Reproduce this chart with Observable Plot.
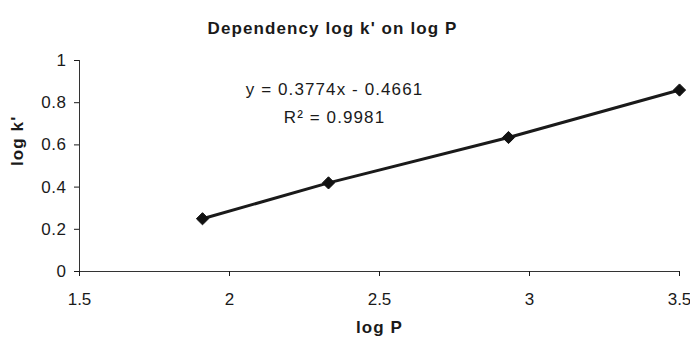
<!DOCTYPE html>
<html>
<head>
<meta charset="utf-8">
<script src="https://cdn.jsdelivr.net/npm/d3@7"></script>
<script src="https://cdn.jsdelivr.net/npm/@observablehq/plot@0.6"></script>
<style>
  html, body { margin: 0; padding: 0; background: #fff; }
  #chart svg { font-family: "Liberation Sans", Arial, sans-serif; }
  #chart g[aria-label="text"] { letter-spacing: 1.1px; }
  #chart g[aria-label="y-axis tick label"] { letter-spacing: 0.5px; }
</style>
</head>
<body>
<div id="chart"></div>
<script>
const logP = [1.91, 2.33, 2.93, 3.5];
const logK = [0.25, 0.42, 0.635, 0.86];
const xTicks = [1.5, 2, 2.5, 3, 3.5];
const yTicks = [0, 0.2, 0.4, 0.6, 0.8, 1];
const titleText = "Dependency log k' on log P";
const xLabel = "log P";
const yLabel = "log k'";
const eqText = ["y = 0.3774x - 0.4661", "R\u00B2 = 0.9981"];
const eqX = [2.35, 2.35];
const eqY = [0.86, 0.73];

const data = logP.map((x, i) => ({x, y: logK[i]}));
const eq = eqText.map((t, i) => ({t, x: eqX[i], y: eqY[i]}));

const chart = Plot.plot({
  width: 690,
  height: 342,
  marginLeft: 79,
  marginRight: 11,
  marginTop: 60,
  marginBottom: 71,
  style: {fontSize: "17px", fontFamily: "'Liberation Sans', Arial, sans-serif", color: "#1a1a1a", background: "#fff"},
  x: {domain: [1.5, 3.5]},
  y: {domain: [0, 1]},
  marks: [
    Plot.ruleX([1.5], {stroke: "#333", strokeWidth: 1}),
    Plot.ruleY([0], {stroke: "#333", strokeWidth: 1}),
    Plot.axisX({ticks: xTicks, tickSize: 5, tickPadding: 16, tickFormat: d => String(d), label: null, fontSize: 17}),
    Plot.axisY({ticks: yTicks, tickSize: 5, tickPadding: 8, tickFormat: d => String(d), label: null, fontSize: 17}),
    Plot.line(data, {x: "x", y: "y", stroke: "#1a1a1a", strokeWidth: 3}),
    Plot.dot(data, {x: "x", y: "y", symbol: "diamond2", r: 5.5, fill: "#111", stroke: "#111", strokeWidth: 1}),
    Plot.text(eq, {x: "x", y: "y", text: "t", fontSize: 17, fill: "#1a1a1a"}),
    Plot.text([titleText], {frameAnchor: "top", dx: -47, dy: -39, fontWeight: "bold", fontSize: 17, fill: "#1a1a1a"}),
    Plot.text([xLabel], {frameAnchor: "bottom", dy: 61, fontWeight: "bold", fontSize: 17, fill: "#1a1a1a"}),
    Plot.text([yLabel], {frameAnchor: "left", dx: -62, rotate: -90, fontWeight: "bold", fontSize: 17, fill: "#1a1a1a"})
  ]
});
document.getElementById("chart").append(chart);
</script>
</body>
</html>
